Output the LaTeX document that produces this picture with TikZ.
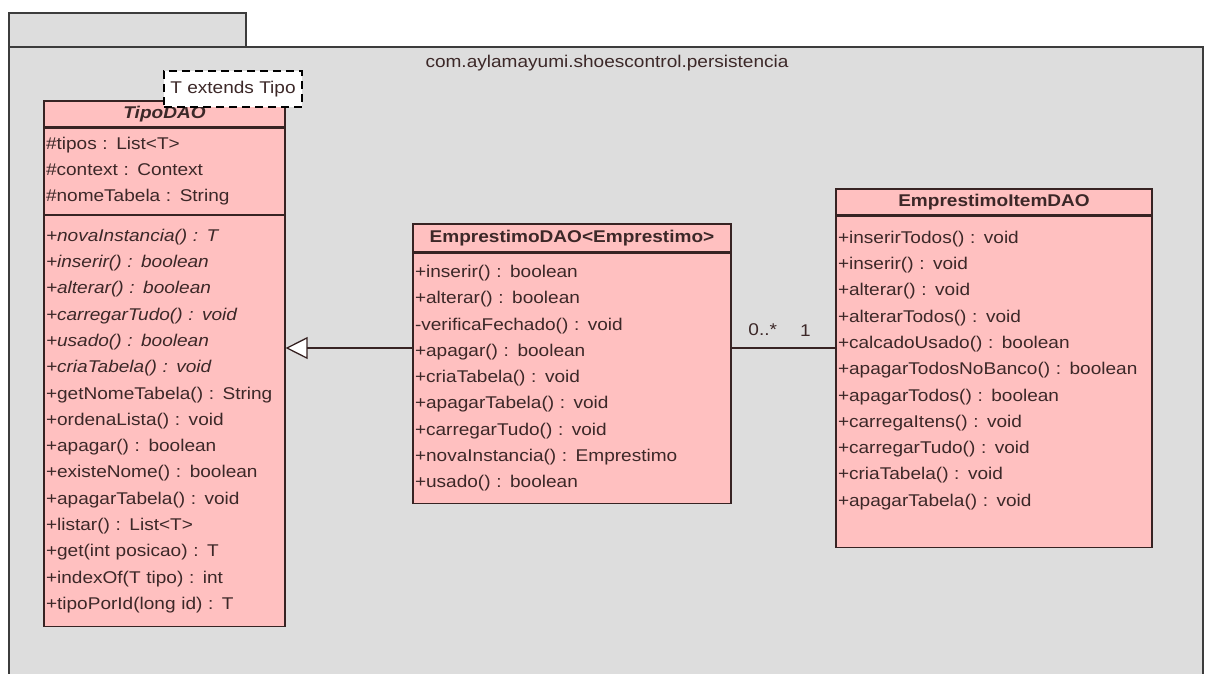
\documentclass[tikz,border=0pt]{standalone}
\usepackage{fontspec}
\setmainfont{Liberation Sans}[FakeStretch=1.12]
\usetikzlibrary{arrows.meta,positioning}
\definecolor{pkggray}{RGB}{221,221,221}
\definecolor{pkgline}{RGB}{60,60,60}
\definecolor{classpink}{RGB}{255,192,192}
\definecolor{classline}{RGB}{55,35,35}
\definecolor{textdark}{RGB}{60,40,40}

\begin{document}
\begin{tikzpicture}[
    x=1pt,
    y=-1pt,
    vp/.style={
        font=\fontsize{17}{26.3}\selectfont,
        text=textdark
    },
    cls/.style={
        vp,
        draw=classline,
        fill=classpink,
        line width=1.2pt,
        inner xsep=2pt,
        inner ysep=0pt
    },
    chead/.style={cls, align=center},
    cbody/.style={cls, align=left},
    pkg/.style={draw=pkgline, fill=pkggray, line width=1.3pt},
    link/.style={draw=classline, line width=1.3pt}
]

\path[use as bounding box] (0,0) rectangle (1205,673);
\fill[white] (0,0) rectangle (1205,673);

% package frame
\draw[pkg] (9,47) rectangle (1203,700);
\draw[pkg] (9,13) rectangle (246,47);
\node[vp] (pkgname) at (607,63) {com.aylamayumi.shoescontrol.persistencia};

% TipoDAO
\node[
    chead,
    text width=237pt,
    minimum height=26pt
] (tipohead) at (164.5,114) {\textbf{\textit{TipoDAO}}};

\node[
    cbody,
    text width=237pt,
    minimum height=86pt,
    below=0pt of tipohead
] (tipoattr) {
    \#tipos : List<T>\\
    \#context : Context\\
    \#nomeTabela : String
};

\node[
    cbody,
    text width=237pt,
    minimum height=411pt,
    below=0pt of tipoattr
] (tipoops) {
    \textit{+novaInstancia() : T}\\
    \textit{+inserir() : boolean}\\
    \textit{+alterar() : boolean}\\
    \textit{+carregarTudo() : void}\\
    \textit{+usado() : boolean}\\
    \textit{+criaTabela() : void}\\
    +getNomeTabela() : String\\
    +ordenaLista() : void\\
    +apagar() : boolean\\
    +existeNome() : boolean\\
    +apagarTabela() : void\\
    +listar() : List<T>\\
    +get(int posicao) : T\\
    +indexOf(T tipo) : int\\
    +tipoPorId(long id) : T
};

\node[
    vp,
    draw=black,
    fill=white,
    line width=1.2pt,
    dash pattern=on 8pt off 5pt,
    minimum width=138pt,
    minimum height=36pt,
    inner sep=0pt
] (tipoparam) at (233,89) {T extends Tipo};

% EmprestimoDAO
\node[
    chead,
    text width=314pt,
    minimum height=28pt
] (emphead) at (572,238) {\textbf{EmprestimoDAO<Emprestimo>}};

\node[
    cbody,
    text width=314pt,
    minimum height=250pt,
    below=0pt of emphead
] (empops) {
    +inserir() : boolean\\
    +alterar() : boolean\\
    -verificaFechado() : void\\
    +apagar() : boolean\\
    +criaTabela() : void\\
    +apagarTabela() : void\\
    +carregarTudo() : void\\
    +novaInstancia() : Emprestimo\\
    +usado() : boolean
};

% EmprestimoItemDAO
\node[
    chead,
    text width=312pt,
    minimum height=26pt
] (itemhead) at (994,202) {\textbf{EmprestimoItemDAO}};

\node[
    cbody,
    text width=312pt,
    minimum height=331pt,
    below=0pt of itemhead
] (itemops) {
    +inserirTodos() : void\\
    +inserir() : void\\
    +alterar() : void\\
    +alterarTodos() : void\\
    +calcadoUsado() : boolean\\
    +apagarTodosNoBanco() : boolean\\
    +apagarTodos() : boolean\\
    +carregaItens() : void\\
    +carregarTudo() : void\\
    +criaTabela() : void\\
    +apagarTabela() : void\\
    \mbox{}
};

% connectors
\coordinate (linky) at (0,348);

\draw[link, -{Triangle[fill=white, length=22pt, width=22pt]}]
    (empops.west |- linky) -- (tipoops.east |- linky);

\draw[link] (empops.east |- linky)
    -- node[vp, pos=0.3, above=8pt] (multmany) {0..*}
       node[vp, pos=0.71, above=8pt] (multone) {1}
    (itemops.west |- linky);

\end{tikzpicture}
\end{document}
